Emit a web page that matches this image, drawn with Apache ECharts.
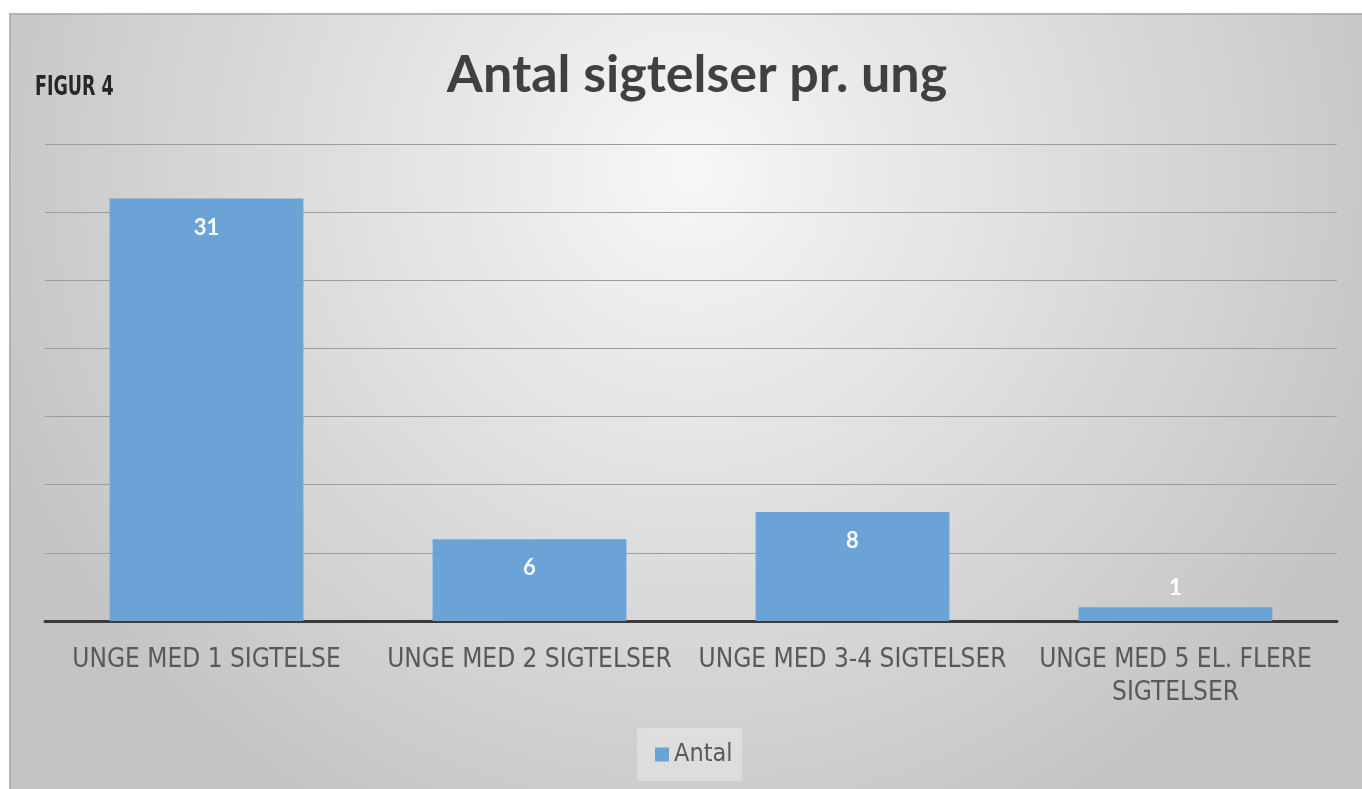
<!DOCTYPE html>
<html>
<head>
<meta charset="utf-8">
<script src="https://cdn.jsdelivr.net/npm/echarts@6/dist/echarts.min.js"></script>
<style>
  html, body { margin: 0; padding: 0; background: #ffffff; }
  #main { width: 1362px; height: 789px; }
</style>
</head>
<body>
<div id="main"></div>
<script>
// data
var categories = ['UNGE MED 1 SIGTELSE', 'UNGE MED 2 SIGTELSER', 'UNGE MED 3-4 SIGTELSER', 'UNGE MED 5 EL. FLERE\nSIGTELSER'];
var antal = [31, 6, 8, 1];
var seriesName = 'Antal';

window.onload = function () {
    var chartDom = document.getElementById('main');
    var myChart = echarts.init(chartDom);
    var option;

    var barData = antal.map(function (v) {
        // small bar: label sits above it
        if (v < 3) {
            return { value: v, label: { position: 'top', distance: 8 } };
        }
        return v;
    });

    option = {
        animation: false,
        graphic: [
            {
                type: 'rect',
                z: -10,
                shape: { x: 10, y: 14, width: 1360, height: 785 },
                style: {
                    fill: new echarts.graphic.RadialGradient(0.5, 0.2, 0.95, [
                        { offset: 0, color: '#f7f7f7' },
                        { offset: 1, color: '#c4c4c4' }
                    ]),
                    stroke: '#b4b4b4',
                    lineWidth: 2
                }
            },
            {
                type: 'text',
                x: 35,
                y: 74,
                scaleX: 0.72,
                style: {
                    text: 'FIGUR 4',
                    fill: '#262626',
                    font: 'bold 27px "DejaVu Sans Condensed", sans-serif'
                }
            }
        ],
        title: {
            text: 'Antal sigtelser pr. ung',
            left: 692,
            textAlign: 'center',
            top: 44,
            textStyle: {
                fontFamily: 'Lato',
                fontWeight: 'bold',
                fontSize: 52,
                color: '#404040'
            }
        },
        legend: {
            data: [seriesName],
            left: 637,
            top: 728,
            itemWidth: 14,
            itemHeight: 14,
            itemGap: 8,
            padding: [14, 10, 14, 18],
            backgroundColor: 'rgba(255,255,255,0.3)',
            icon: 'rect',
            textStyle: {
                fontFamily: '"DejaVu Sans Condensed", sans-serif',
                fontSize: 25,
                color: '#595959'
            }
        },
        grid: {
            left: 45,
            right: 25,
            top: 144,
            bottom: 168
        },
        xAxis: {
            type: 'category',
            data: categories,
            axisTick: { show: false },
            axisLine: { show: true, lineStyle: { color: '#3a3a3a', width: 3 } },
            axisLabel: {
                interval: 0,
                margin: 23,
                fontFamily: '"DejaVu Sans Condensed", sans-serif',
                fontSize: 26,
                lineHeight: 33,
                color: '#595959'
            }
        },
        yAxis: {
            type: 'value',
            min: 0,
            max: 35,
            interval: 5,
            axisLabel: { show: false },
            axisLine: { show: false },
            axisTick: { show: false },
            splitLine: { show: true, lineStyle: { color: '#9c9c9c', width: 1 } }
        },
        series: [
            {
                name: seriesName,
                type: 'bar',
                barWidth: '60%',
                itemStyle: { color: '#6ba3d7' },
                label: {
                    show: true,
                    position: 'insideTop',
                    distance: 18,
                    color: '#ffffff',
                    fontFamily: 'Lato',
                    fontWeight: 'bold',
                    fontSize: 22
                },
                data: barData
            }
        ]
    };
    option && myChart.setOption(option);
};
</script>
</body>
</html>
